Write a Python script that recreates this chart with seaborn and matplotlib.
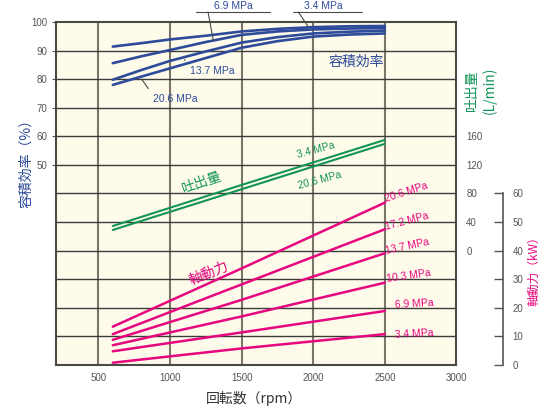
import matplotlib
matplotlib.use("Agg")
import matplotlib.pyplot as plt
import pandas as pd
import seaborn as sns

# ---- data -------------------------------------------------------------
eff_rpm = [600, 800, 1000, 1250, 1500, 1750, 2000, 2250, 2500]
eff_3_4 = [91.4, 92.6, 93.9, 95.2, 96.7, 97.6, 98.2, 98.5, 98.6]
eff_6_9 = [85.6, 88.0, 90.2, 93.0, 95.5, 96.7, 97.4, 97.7, 97.9]
eff_13_7 = [79.8, 83.2, 86.4, 89.7, 92.8, 94.7, 96.0, 96.6, 97.0]
eff_20_6 = [78.0, 80.9, 83.8, 87.4, 91.0, 93.3, 94.9, 95.6, 96.0]

flow_rpm = [600, 1500, 2500]
flow_3_4 = [34.5, 92.0, 155.0]
flow_20_6 = [29.0, 86.0, 149.5]

power_rpm = [600, 1500, 2500]
power_20_6 = [13.4, 33.8, 56.8]
power_17_2 = [10.8, 28.2, 47.5]
power_13_7 = [8.8, 22.8, 39.1]
power_10_3 = [6.9, 17.0, 28.8]
power_6_9 = [4.8, 11.4, 18.9]
power_3_4 = [0.8, 5.8, 10.8]

x_ticks = [500, 1000, 1500, 2000, 2500, 3000]
eff_ticks = [50, 60, 70, 80, 90, 100]
flow_ticks = [0, 40, 80, 120, 160]
power_ticks = [0, 10, 20, 30, 40, 50, 60]

# ---- long-form tables -------------------------------------------------
eff_df = pd.concat([
    pd.DataFrame({"rpm": eff_rpm, "value": v, "p": p})
    for p, v in [("3.4 MPa", eff_3_4), ("6.9 MPa", eff_6_9),
                 ("13.7 MPa", eff_13_7), ("20.6 MPa", eff_20_6)]
])
flow_df = pd.concat([
    pd.DataFrame({"rpm": flow_rpm, "value": v, "p": p})
    for p, v in [("3.4 MPa", flow_3_4), ("20.6 MPa", flow_20_6)]
])
power_df = pd.concat([
    pd.DataFrame({"rpm": power_rpm, "value": v, "p": p})
    for p, v in [("20.6 MPa", power_20_6), ("17.2 MPa", power_17_2),
                 ("13.7 MPa", power_13_7), ("10.3 MPa", power_10_3),
                 ("6.9 MPa", power_6_9), ("3.4 MPa", power_3_4)]
])

# ---- style ------------------------------------------------------------
sns.set_style("white")
plt.rcParams["font.family"] = ["Liberation Sans", "Noto Sans CJK JP", "DejaVu Sans"]
JP = ["Noto Sans CJK JP", "DejaVu Sans"]

BLUE = "#2d4b9a"
GREEN = "#139457"
PINK = "#e6067f"
TICK = "#555555"
BG = "#fefbea"
LBL = 7.5   # curve label size
TK = 7      # tick label size

fig = plt.figure(figsize=(5.4, 4.12), dpi=100)
ax = fig.add_axes([0.10278, 0.11408, 0.74259, 0.83252])
ax.set_facecolor(BG)

# volumetric efficiency (left axis)
sns.lineplot(data=eff_df, x="rpm", y="value", hue="p", ax=ax, legend=False,
             palette={p: BLUE for p in eff_df["p"].unique()}, linewidth=1.9)

# discharge (inner right axis)
ax2 = ax.twinx()
sns.lineplot(data=flow_df, x="rpm", y="value", hue="p", ax=ax2, legend=False,
             palette={p: GREEN for p in flow_df["p"].unique()}, linewidth=1.5)

# shaft power (outer right axis)
ax3 = ax.twinx()
sns.lineplot(data=power_df, x="rpm", y="value", hue="p", ax=ax3, legend=False,
             palette={p: PINK for p in power_df["p"].unique()}, linewidth=1.8)

for a in (ax, ax2, ax3):
    a.set_xlabel("")
    a.set_ylabel("")

ax.set_xlim(200, 3000)
ax.set_ylim(-20, 100)
ax2.set_ylim(-160, 320)
ax3.set_ylim(0, 120)

# grid: minor locations also carry the lines that sit on labelled values
ax.xaxis.remove_overlapping_locs = False
ax.yaxis.remove_overlapping_locs = False
ax.set_xticks(x_ticks)
ax.set_xticks([500, 1000, 1500, 2000, 2500], minor=True)
ax.set_yticks(eff_ticks)
ax.set_yticks(list(range(-10, 100, 10)), minor=True)
ax.xaxis.grid(False)
ax.yaxis.grid(False)
ax.grid(which="minor", axis="x", color="#7a766c", linewidth=1.5)
ax.grid(which="minor", axis="y", color="#3c3c38", linewidth=1.0)
ax.set_axisbelow(True)
ax.tick_params(axis="x", which="both", length=0, pad=6, labelsize=TK, labelcolor=TICK)
ax.tick_params(axis="y", which="major", length=3, width=0.8, color="#555",
               pad=3, labelsize=TK, labelcolor=TICK)
ax.tick_params(axis="y", which="minor", length=0)
for s in ax.spines.values():
    s.set_color("#4a4a44")
    s.set_linewidth(1.5)

ax2.set_yticks(flow_ticks)
ax2.tick_params(axis="y", length=0, pad=7, labelsize=TK, labelcolor=TICK)
for s in ax2.spines.values():
    s.set_visible(False)

ax3.set_yticks(power_ticks)
for k in ("top", "left", "bottom"):
    ax3.spines[k].set_visible(False)
ax3.spines["right"].set_position(("axes", 1.116))
ax3.spines["right"].set_bounds(0, 60)
ax3.spines["right"].set_color("#555")
ax3.spines["right"].set_linewidth(1.2)
ax3.tick_params(axis="y", direction="in", length=6.5, width=1.0, color="#555",
                pad=7, labelsize=TK, labelcolor=TICK)

# ---- curve labels -------------------------------------------------------
lead = dict(arrowstyle="-", color="#4a4a4a", lw=0.8)
ax.annotate("13.7 MPa", xy=(1089, 87.6), xytext=(1139, 82.9), color=BLUE,
            fontsize=LBL, ha="left", va="center",
            arrowprops=dict(lead, relpos=(0, 0.9)))
ax.annotate("20.6 MPa", xy=(790, 80.8), xytext=(881, 73.0), color=BLUE,
            fontsize=LBL, ha="left", va="center",
            arrowprops=dict(lead, relpos=(0, 0.9)))

# labels above the plot with underline and leader
y_top = 103.5
ax.plot([1180, 1698], [y_top, y_top], color="#4a4a4a", lw=0.8, clip_on=False)
ax.plot([1265, 1302], [y_top, 93.6], color="#4a4a4a", lw=0.8, clip_on=False)
ax.text(1440, 103.9, "6.9 MPa", color=BLUE, fontsize=LBL, ha="center", va="bottom")
ax.plot([1860, 2340], [y_top, y_top], color="#4a4a4a", lw=0.8, clip_on=False)
ax.plot([1896, 1965], [y_top, 98.3], color="#4a4a4a", lw=0.8, clip_on=False)
ax.text(2070, 103.9, "3.4 MPa", color=BLUE, fontsize=LBL, ha="center", va="bottom")

ax.text(2299, 86.1, "容積効率", color=BLUE, fontsize=10, family=JP,
        ha="center", va="center")

ax.text(1220, 43.7, "吐出量", color=GREEN, fontsize=10, family=JP,
        ha="center", va="center", rotation=19)
ax.text(2019, 55.2, "3.4 MPa", color=GREEN, fontsize=LBL,
        ha="center", va="center", rotation=15)
ax.text(2047, 44.7, "20.6 MPa", color=GREEN, fontsize=LBL,
        ha="center", va="center", rotation=15)

ax.text(1272, 12.2, "軸動力", color=PINK, fontsize=10, family=JP,
        ha="center", va="center", rotation=22)
for txt, x, y, r in [("20.6 MPa", 2648, 40.3, 18), ("17.2 MPa", 2653, 30.1, 15),
                     ("13.7 MPa", 2653, 21.5, 12), ("10.3 MPa", 2664, 11.2, 8),
                     ("6.9 MPa", 2708, 1.3, 3), ("3.4 MPa", 2703, -9.2, 3)]:
    ax.text(x, y, txt, color=PINK, fontsize=LBL, ha="center", va="center", rotation=r)

# ---- axis titles ------------------------------------------------------
fig.text(26 / 540, 1 - 160 / 412, "容積効率（%）", color=BLUE, fontsize=10,
         family=JP, rotation=90, ha="center", va="center")
fig.text(254 / 540, 1 - 398 / 412, "回転数（rpm）", color="#333333", fontsize=10,
         family=JP, ha="center", va="center")
fig.text(481 / 540, 1 - 90 / 412, "吐出量\n(L/min)", color=GREEN, fontsize=10,
         family=JP, rotation=90, ha="center", va="center", multialignment="center",
         linespacing=1.25)
fig.text(533.5 / 540, 1 - 268 / 412, "軸動力（kW）", color=PINK, fontsize=8.5,
         family=JP, rotation=90, ha="center", va="center")

fig.savefig("out.png", dpi=100)
